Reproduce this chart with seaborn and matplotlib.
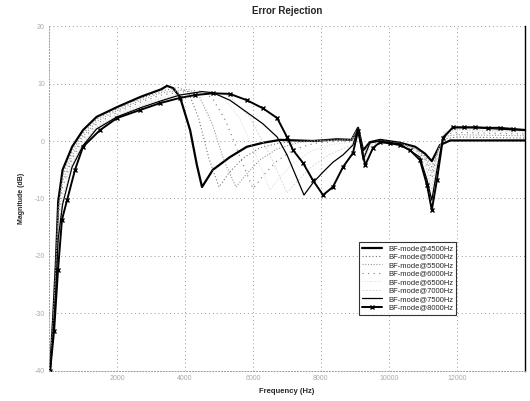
import numpy as np
import matplotlib
matplotlib.use("Agg")
import matplotlib.pyplot as plt
import pandas as pd
import seaborn as sns

# values (frequency in Hz, magnitude in dB)
rise_f = [30, 120, 200, 270, 400, 680, 1000, 1400, 2000, 2700, 3300]

f_4500 = rise_f + [3470, 3650, 3850, 4150, 4350, 4500, 4820, 5320, 5820, 6300, 6800, 7760, 8470, 8900,
                   9090, 9240, 9440, 9740, 10320, 10770, 11060, 11260, 11500, 11800, 14090]
m_4500 = [-40, -31, -21.5, -10.5, -5, -1, 1.9, 4.2, 5.9, 7.7, 9.0] + \
         [9.6, 9.2, 7.7, 1.9, -4.2, -8.0, -5.0, -2.8, -1.0, -0.3, 0.2, 0.0, 0.3, 0.2,
          2.3, -1.6, -0.2, 0.2, -0.3, -1.0, -2.2, -3.5, -0.7, 0.1, 0.1]

f_5000 = rise_f + [3800, 4100, 4400, 4700, 5000, 5300, 5700, 6200, 6800, 7500, 8500, 8900,
                   9090, 9240, 9440, 9740, 10320, 10800, 11060, 11260, 11450, 11650, 12000, 14090]
m_5000 = [-40, -31.5, -22, -11.5, -6, -1.8, 1.3, 3.8, 5.6, 7.4, 8.7] + \
         [9.3, 8.5, 4.0, -3.0, -8.0, -5.5, -3.0, -1.2, -0.3, 0.0, 0.2, 0.2,
          2.3, -2.0, -0.3, 0.1, -0.4, -1.3, -2.6, -4.5, -1.5, 0.4, 0.7, 0.5]

f_5500 = rise_f + [3850, 4100, 4400, 4800, 5150, 5500, 5800, 6200, 6700, 7300, 8000, 8900,
                   9090, 9240, 9440, 9740, 10320, 10800, 11060, 11260, 11450, 11650, 12000, 14090]
m_5500 = [-40, -32, -22.5, -12.5, -7, -2.5, 0.8, 3.4, 5.3, 7.1, 8.4] + \
         [8.8, 9.0, 8.0, 3.0, -3.5, -8.0, -5.8, -3.3, -1.4, -0.3, 0.1, 0.2,
          2.3, -2.5, -0.4, 0.1, -0.4, -1.4, -2.9, -5.5, -1.5, 0.8, 1.1, 0.9]

f_6000 = rise_f + [3850, 4400, 4800, 5200, 5600, 6000, 6300, 6700, 7200, 7800, 8500, 8900,
                   9090, 9260, 9440, 9740, 10320, 10800, 11060, 11260, 11450, 11650, 12000, 14090]
m_6000 = [-40, -32.5, -23, -13.5, -8, -3, 0.3, 3.0, 5.0, 6.8, 8.0] + \
         [8.5, 8.8, 7.5, 3.5, -2.5, -8.3, -6.0, -3.5, -1.5, -0.4, 0.0, 0.0,
          2.2, -2.9, -0.5, 0.0, -0.5, -1.5, -3.2, -6.5, -1.5, 1.2, 1.5, 1.2]

f_6500 = rise_f + [3850, 4700, 5100, 5600, 6050, 6500, 6800, 7200, 7700, 8300, 8900,
                   9090, 9260, 9440, 9740, 10320, 10800, 11060, 11260, 11450, 11650, 12000, 14090]
m_6500 = [-40, -33, -24, -15, -9, -3.5, -0.2, 2.7, 4.7, 6.4, 7.6] + \
         [8.2, 8.6, 7.8, 4.0, -2.0, -8.5, -6.2, -3.8, -1.8, -0.6, -0.2,
          2.1, -3.3, -0.6, 0.0, -0.5, -1.6, -3.5, -7.5, -1.5, 1.5, 1.8, 1.5]

f_7000 = rise_f + [3850, 4900, 5300, 5900, 6500, 7000, 7300, 7700, 8200, 8700, 8950,
                   9090, 9280, 9450, 9740, 10320, 10850, 11080, 11260, 11430, 11620, 12000, 14090]
m_7000 = [-40, -33.5, -25, -16, -10, -4, -0.5, 2.4, 4.4, 6.1, 7.3] + \
         [8.0, 8.5, 7.8, 4.2, -2.5, -9.0, -7.0, -4.6, -2.5, -1.2, -0.5,
          2.0, -3.6, -0.8, -0.1, -0.6, -2.0, -4.5, -8.5, -3.0, 1.6, 2.0, 1.7]

f_7500 = rise_f + [3850, 4500, 4820, 5320, 5820, 6290, 6710, 7000, 7250, 7500, 7760, 8060, 8350, 8650, 8940,
                   9090, 9240, 9440, 9740, 10320, 10910, 11120, 11260, 11410, 11590, 11880, 12530, 14090]
m_7500 = [-40, -34, -26, -17, -11, -4.5, -0.8, 2.1, 4.2, 5.8, 7.0] + \
         [8.0, 8.6, 8.4, 7.1, 5.0, 3.0, 0.7, -2.4, -5.9, -9.4, -7.3, -5.4, -3.7, -2.4, -0.7,
          2.3, -3.3, -0.3, 0.0, -0.5, -2.8, -6.8, -10.3, -5.0, 0.7, 2.3, 2.3, 1.8]

f_8000 = [30, 150, 265, 380, 530, 765, 1000, 1500, 2000, 2680, 3270, 3850, 4300, 4820, 5320, 5820, 6290,
          6710, 7000, 7180, 7470, 7760, 8060, 8350, 8650, 8940, 9090, 9300, 9530, 9740, 10030, 10320,
          10620, 10910, 11120, 11260, 11410, 11590, 11880, 12200, 12530, 12900, 13260, 13650, 14090]
m_8000 = [-40, -33, -22.4, -13.7, -10.3, -5.0, -1.0, 1.9, 4.0, 5.4, 6.6, 7.5, 8.0, 8.3, 8.2, 7.1, 5.7,
          4.0, 0.7, -1.6, -3.8, -6.8, -9.4, -8.0, -4.5, -2.1, 1.8, -4.2, -1.2, -0.2, -0.4, -0.7,
          -1.6, -3.3, -7.7, -12.0, -6.8, 0.5, 2.4, 2.4, 2.4, 2.3, 2.3, 2.1, 1.9]

labels = ["BF-mode@4500Hz", "BF-mode@5000Hz", "BF-mode@5500Hz", "BF-mode@6000Hz",
          "BF-mode@6500Hz", "BF-mode@7000Hz", "BF-mode@7500Hz", "BF-mode@8000Hz"]
freqs = [f_4500, f_5000, f_5500, f_6000, f_6500, f_7000, f_7500, f_8000]
mags = [m_4500, m_5000, m_5500, m_6000, m_6500, m_7000, m_7500, m_8000]

x_ticks = [2000, 4000, 6000, 8000, 10000, 12000]
y_ticks = [20, 10, 0, -10, -20, -30, -40]

styles = [
    dict(color="black", lw=1.6, ls="-"),
    dict(color="#777777", lw=0.8, ls=(0, (1, 2))),
    dict(color="#999999", lw=0.8, ls=(0, (1, 1.5))),
    dict(color="#777777", lw=0.8, ls=(0, (1, 4))),
    dict(color="#cccccc", lw=0.6, ls=(0, (1, 2))),
    dict(color="#cccccc", lw=0.6, ls=(0, (2, 2))),
    dict(color="black", lw=0.9, ls="-"),
    dict(color="black", lw=1.4, ls="-", marker="x", ms=2.5, mew=1.0, mec="black", mfc="black"),
]

sns.set_theme(style="white")
plt.rcParams["font.family"] = ["Liberation Sans", "DejaVu Sans"]

fig = plt.figure(figsize=(5.3, 4.01), dpi=100)
ax = fig.add_axes([0.0925, 0.075, 0.898, 0.86])

for lab, f, m, st in zip(labels, freqs, mags, styles):
    df = pd.DataFrame({"freq": f, "mag": m})
    sns.lineplot(data=df, x="freq", y="mag", ax=ax, sort=False, estimator=None, label=lab, **st)

ax.set_xlim(0, 14000)
ax.set_ylim(-40, 20)
ax.set_xticks(x_ticks)
ax.set_xticklabels([str(v) for v in x_ticks])
ax.set_yticks(y_ticks)
ax.set_yticklabels([str(v) for v in y_ticks])
ax.tick_params(axis="both", labelsize=5, colors="#aaaaaa", length=0, pad=3)
ax.grid(True, color="#999999", ls=(0, (1, 3)), lw=0.7)

for s in ["left", "bottom", "top"]:
    ax.spines[s].set_linestyle((0, (1, 2)))
    ax.spines[s].set_color("#999999")
    ax.spines[s].set_linewidth(0.7)
ax.spines["top"].set_visible(False)
ax.spines["right"].set_color("black")
ax.spines["right"].set_linewidth(1.0)

ax.set_title("Error Rejection", fontsize=7, fontweight="bold", pad=9)
ax.set_xlabel("Frequency (Hz)", fontsize=5.5, fontweight="bold", labelpad=4)
ax.set_ylabel("Magnitude (dB)", fontsize=5, fontweight="bold", labelpad=7)

leg = ax.legend(loc="lower left", bbox_to_anchor=(0.643, 0.152), fontsize=5.5, frameon=True,
                fancybox=False, borderpad=0.4, labelspacing=0.15, handlelength=2.6, handletextpad=0.8)
leg.get_frame().set_edgecolor("black")
leg.get_frame().set_linewidth(0.8)

fig.savefig("out.png", dpi=100)
